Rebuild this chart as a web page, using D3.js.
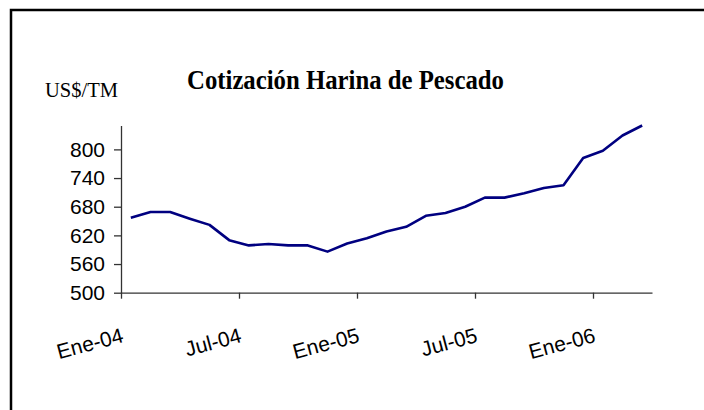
<!DOCTYPE html>
<html><head><meta charset="utf-8">
<script src="https://cdn.jsdelivr.net/npm/d3@7"></script>
<style>body{margin:0;background:#fff}svg{display:block}</style>
</head><body>
<svg id="c" width="704" height="410"></svg>
<script>
const months = ["Ene-04","Feb-04","Mar-04","Abr-04","May-04","Jun-04","Jul-04","Ago-04","Sep-04","Oct-04","Nov-04","Dic-04",
"Ene-05","Feb-05","Mar-05","Abr-05","May-05","Jun-05","Jul-05","Ago-05","Sep-05","Oct-05","Nov-05","Dic-05",
"Ene-06","Feb-06","Mar-06"];
const prices = [657,669,669,655,642,610,599,602,599,599,586,603,614,628,638,661,667,680,699,699,708,719,725,782,797,829,850];
const yTicks = [500,560,620,680,740,800];
const xTickIdx = [0,6,12,18,24];
const title = "Cotización Harina de Pescado";
const unit = "US$/TM";

const svg = d3.select("#c");
// frame
svg.append("path").attr("d","M11,412V10H706").attr("fill","none").attr("stroke","#000").attr("stroke-width",2.5);

const x = d3.scaleLinear().domain([0, months.length]).range([121, 652]);
const y = d3.scaleLinear().domain([500, 850]).range([292.7, 125.5]);

const gy = svg.append("g").attr("transform","translate(121,0)")
  .call(d3.axisLeft(y).tickValues(yTicks).tickSize(7).tickSizeOuter(0).tickPadding(9));
gy.select(".domain").attr("stroke","#333").attr("stroke-width",1.3);
gy.selectAll(".tick line").attr("stroke","#333").attr("stroke-width",1.3);
gy.selectAll("text").attr("font-family","Liberation Sans, Arial, sans-serif").attr("font-size",21).attr("fill","#000");

const gx = svg.append("g").attr("transform","translate(0,292.7)")
  .call(d3.axisBottom(x).tickValues(xTickIdx).tickFormat(i => months[i]).tickSize(6).tickSizeOuter(0));
gx.select(".domain").attr("stroke","#333").attr("stroke-width",1.3);
gx.selectAll(".tick line").attr("stroke","#333").attr("stroke-width",1.3);
gx.selectAll("text").attr("font-family","Liberation Sans, Arial, sans-serif").attr("font-size",21).attr("fill","#000")
  .attr("text-anchor","end").attr("y",0).attr("dy",0).attr("transform","translate(3,49) rotate(-15)");

const line = d3.line().x((d,i) => x(i + 0.5)).y(d => y(d));
svg.append("path").datum(prices).attr("d", line).attr("fill","none")
  .attr("stroke","#000080").attr("stroke-width",2.6).attr("stroke-linejoin","round");

svg.append("text").attr("x",187).attr("y",89).text(title)
  .attr("font-family","Liberation Serif, Times New Roman, serif").attr("font-weight","bold").attr("font-size",26.5)
  .attr("textLength",317).attr("lengthAdjust","spacingAndGlyphs").attr("fill","#000");
svg.append("text").attr("x",45).attr("y",97).text(unit)
  .attr("font-family","Liberation Serif, Times New Roman, serif").attr("font-size",21.5)
  .attr("textLength",73).attr("lengthAdjust","spacingAndGlyphs").attr("fill","#000");
</script>
</body></html>
